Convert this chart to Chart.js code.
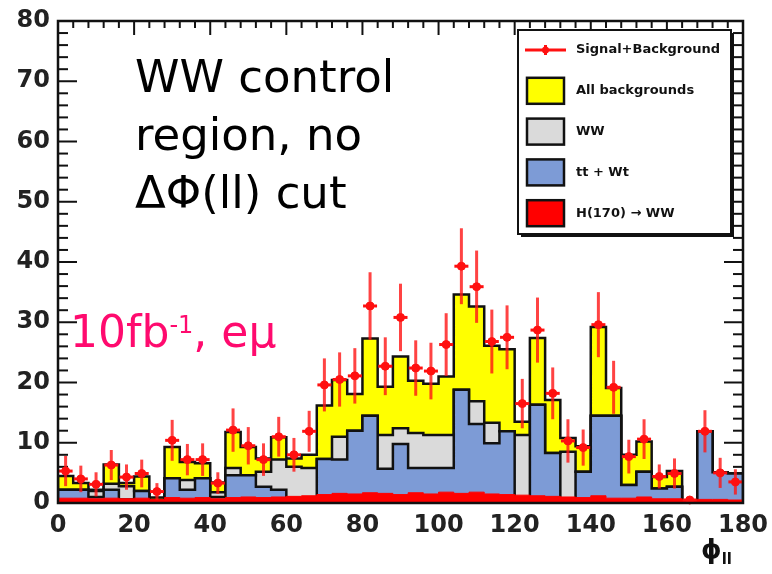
<!DOCTYPE html>
<html>
<head>
<meta charset="utf-8">
<script src="https://cdn.jsdelivr.net/npm/chart.js@4/dist/chart.umd.min.js"></script>
<style>
  html, body { margin: 0; padding: 0; background: #fff; }
  #wrap { position: relative; width: 772px; height: 574px; overflow: hidden; }
  #c { position: absolute; left: 0; top: 0; }
  .note { position: absolute; font-family: 'DejaVu Sans', sans-serif; white-space: nowrap; }
</style>
</head>
<body>
<div id="wrap">
  <canvas id="c" width="772" height="574"></canvas>
  <div class="note" style="left:135px; top:48px; font-size:45px; line-height:58px; color:#000;">WW control<br>region, no<br>ΔΦ(ll) cut</div>
  <div class="note" style="left:70px; top:306px; font-size:44px; color:#ff0a6e;">10fb<span style="font-size:24px; position:relative; top:-14px;">-1</span>, eμ</div>
  <div class="note" style="left:701px; top:534px; font-size:26px; font-weight:bold; color:#111;">ϕ<span style="font-size:15px; position:relative; top:6px;">ll</span></div>
</div>
<script>
// Lower edges of the 4-degree bins in phi_ll
const binLow = [0, 4, 8, 12, 16, 20, 24, 28, 32, 36, 40, 44, 48, 52, 56, 60, 64, 68, 72, 76,
                80, 84, 88, 92, 96, 100, 104, 108, 112, 116, 120, 124, 128, 132, 136, 140,
                144, 148, 152, 156, 160, 164, 168, 172, 176];
const binWidth = 4;
const xMax = 180;

// Signal + background pseudo-data and their uncertainties
const dataCounts = [5.3, 4.0, 3.1, 6.3, 4.3, 4.9, 1.9, 10.4, 7.2, 7.2, 3.3, 12.1, 9.5, 7.2, 11.0,
                    8.0, 11.9, 19.6, 20.5, 21.1, 32.7, 22.7, 30.8, 22.4, 21.9, 26.3, 39.3, 35.9,
                    26.8, 27.5, 16.5, 28.7, 18.2, 10.3, 9.2, 29.6, 19.2, 7.7, 10.6, 4.4, 4.9, 0.5,
                    11.9, 5.0, 3.5];
const dataErrors = [2.5, 2.2, 2.0, 2.5, 2.1, 2.3, 1.4, 3.4, 2.6, 2.7, 1.8, 3.6, 3.1, 2.7, 3.3,
                    2.8, 3.4, 4.4, 4.5, 4.6, 5.6, 4.8, 5.6, 4.6, 4.7, 5.2, 6.3, 6.0, 5.3, 5.3,
                    4.1, 5.4, 4.3, 3.6, 3.0, 5.4, 4.4, 2.8, 3.3, 2.0, 2.5, 0, 3.5, 2.5, 2.1];

// Stacked background levels (each level includes the ones below it)
const allBackgrounds = [4.5, 3.3, 2.2, 6.4, 3.3, 4.4, 0.9, 9.3, 6.8, 6.6, 3.4, 11.8, 9.3, 7.4, 10.9,
                        7.4, 8.0, 16.2, 20.4, 18.1, 27.3, 19.3, 24.3, 20.3, 19.8, 21.0, 34.6, 32.6,
                        26.1, 25.5, 13.5, 27.4, 17.1, 10.8, 9.4, 29.2, 19.1, 8.0, 10.2, 4.3, 5.3, 0,
                        11.9, 5.1, 4.9];
const wwPlusTop = [2.2, 2.2, 2.0, 3.2, 2.8, 2.0, 0.5, 4.1, 3.8, 4.1, 1.8, 5.8, 4.6, 5.2, 7.2,
                   6.0, 5.8, 7.3, 11.0, 12.0, 14.5, 11.3, 12.4, 11.6, 11.3, 11.3, 18.8, 16.9,
                   13.3, 11.9, 11.3, 16.3, 8.3, 8.5, 5.2, 14.5, 14.5, 3.0, 5.2, 2.4, 2.7, 0,
                   11.9, 5.1, 4.9];
const topBkg = [2.2, 2.2, 1.0, 2.2, 0.6, 2.0, 0.3, 4.1, 2.2, 4.1, 1.0, 4.6, 4.6, 2.7, 2.2,
                0.6, 0.6, 7.3, 7.2, 12.0, 14.5, 5.7, 9.8, 5.8, 5.8, 5.8, 18.8, 13.1, 9.9, 11.9,
                0.3, 16.3, 8.3, 0.5, 5.2, 14.5, 14.5, 3.0, 5.2, 2.4, 2.7, 0, 11.9, 5.1, 4.9];
// Higgs signal (mH = 170 GeV)
const signal = [0.8, 0.8, 0.7, 0.8, 0.7, 0.8, 0.6, 0.9, 0.8, 0.9, 0.7, 0.9, 1.0, 0.9, 1.0,
                1.1, 1.2, 1.4, 1.6, 1.5, 1.7, 1.6, 1.4, 1.7, 1.5, 1.8, 1.6, 1.8, 1.5, 1.4,
                1.3, 1.2, 1.1, 1.0, 0.9, 1.2, 0.8, 0.8, 1.0, 0.7, 0.7, 0.5, 0.6, 0.6, 0.5];

const yTicks = { min: 0, max: 80, major: 10, minor: 2 };
const xTicks = { min: 0, max: 180, major: 20, minor: 4 };

// Turn bin contents into a closed step outline (drawn with stepped lines)
function histPoints(values) {
  const pts = [{ x: binLow[0], y: 0 }];
  values.forEach((v, i) => pts.push({ x: binLow[i], y: v }));
  pts.push({ x: xMax, y: values[values.length - 1] });
  pts.push({ x: xMax, y: 0 });
  return pts;
}

// Inward-pointing ticks on all four sides plus the frame
const frameTicks = {
  id: 'frameTicks',
  beforeDatasetsDraw(chart) {
    const { ctx, chartArea: a, scales: { x, y } } = chart;
    ctx.save();
    ctx.strokeStyle = '#111';
    ctx.lineWidth = 2;
    const seg = (x1, y1, x2, y2) => { ctx.beginPath(); ctx.moveTo(x1, y1); ctx.lineTo(x2, y2); ctx.stroke(); };
    for (let v = yTicks.min; v <= yTicks.max + 1e-9; v += yTicks.minor) {
      const py = y.getPixelForValue(v);
      const major = Math.abs(v / yTicks.major - Math.round(v / yTicks.major)) < 1e-6;
      const len = major ? 19 : 10;
      seg(a.left, py, a.left + len, py);
      seg(a.right, py, a.right - len, py);
    }
    for (let v = xTicks.min; v <= xTicks.max + 1e-9; v += xTicks.minor) {
      const px = x.getPixelForValue(v);
      const major = Math.abs(v / xTicks.major - Math.round(v / xTicks.major)) < 1e-6;
      const len = major ? 14 : 7;
      seg(px, a.top, px, a.top + len);
      seg(px, a.bottom, px, a.bottom - len);
    }
    ctx.restore();
  },
  afterDatasetsDraw(chart) {
    const { ctx, chartArea: a } = chart;
    ctx.save();
    ctx.strokeStyle = '#111';
    ctx.lineWidth = 2.5;
    ctx.strokeRect(a.left, a.top, a.right - a.left, a.bottom - a.top);
    ctx.restore();
  }
};

// Vertical error bars and horizontal bin markers for the pseudo-data
const errorBars = {
  id: 'errorBars',
  beforeDatasetDraw(chart, args) {
    const ds = chart.data.datasets[args.index];
    if (!ds.errors) return;
    const { ctx, scales: { x, y } } = chart;
    ctx.save();
    ctx.strokeStyle = 'rgba(255, 20, 20, 0.8)';
    ctx.lineWidth = 3;
    ds.data.forEach((p, i) => {
      const e = ds.errors[i];
      const px = x.getPixelForValue(p.x);
      ctx.beginPath();
      ctx.moveTo(px, y.getPixelForValue(p.y + e));
      ctx.lineTo(px, y.getPixelForValue(Math.max(0, p.y - e)));
      ctx.stroke();
    });
    ctx.strokeStyle = '#ff1010';
    ds.data.forEach((p) => {
      const px = x.getPixelForValue(p.x);
      const py = y.getPixelForValue(p.y);
      ctx.beginPath();
      ctx.moveTo(px - 7, py);
      ctx.lineTo(px + 7, py);
      ctx.stroke();
    });
    ctx.restore();
  }
};

// Boxed legend in the upper right corner
const legendBox = {
  id: 'legendBox',
  afterDraw(chart, args, o) {
    const { ctx } = chart;
    ctx.save();
    ctx.fillStyle = '#111';
    ctx.fillRect(o.x + 3, o.y + 3, o.w, o.h);
    ctx.fillStyle = '#fff';
    ctx.fillRect(o.x, o.y, o.w, o.h);
    ctx.strokeStyle = '#111';
    ctx.lineWidth = 2;
    ctx.strokeRect(o.x, o.y, o.w, o.h);
    ctx.font = "bold 13px 'DejaVu Sans'";
    ctx.textBaseline = 'middle';
    ctx.textAlign = 'left';
    chart.data.datasets.forEach((ds, i) => {
      const cy = o.y + o.firstRow + i * o.rowStep;
      const sx = o.x + o.swatchX;
      if (ds.errors) {
        ctx.strokeStyle = '#ff1010';
        ctx.lineWidth = 3;
        ctx.beginPath(); ctx.moveTo(sx - 2, cy); ctx.lineTo(sx + o.swatchW + 2, cy); ctx.stroke();
        ctx.beginPath(); ctx.moveTo(sx + o.swatchW / 2, cy - 5); ctx.lineTo(sx + o.swatchW / 2, cy + 5); ctx.stroke();
        ctx.fillStyle = '#ff1010';
        ctx.beginPath(); ctx.arc(sx + o.swatchW / 2, cy, 3.5, 0, Math.PI * 2); ctx.fill();
      } else {
        ctx.fillStyle = ds.backgroundColor;
        ctx.fillRect(sx, cy - o.swatchH / 2, o.swatchW, o.swatchH);
        ctx.strokeStyle = '#111';
        ctx.lineWidth = 2.5;
        ctx.strokeRect(sx, cy - o.swatchH / 2, o.swatchW, o.swatchH);
      }
      ctx.fillStyle = '#111';
      ctx.fillText(ds.label, o.x + o.textX, cy);
    });
    ctx.restore();
  }
};

Chart.defaults.font.family = "'DejaVu Sans', sans-serif";

const tickFont = { family: "'DejaVu Sans', sans-serif", size: 24, weight: 'bold' };

new Chart(document.getElementById('c'), {
  type: 'line',
  data: {
    datasets: [
      {
        label: 'Signal+Background',
        type: 'scatter',
        data: dataCounts.map((v, i) => ({ x: binLow[i] + binWidth / 2, y: v })),
        errors: dataErrors,
        pointRadius: 4,
        pointBackgroundColor: '#ff1010',
        pointBorderColor: '#ff1010',
        order: 0,
        clip: false
      },
      {
        label: 'All backgrounds',
        data: histPoints(allBackgrounds),
        backgroundColor: '#ffff00',
        borderColor: '#111',
        fill: 'origin',
        pointRadius: 0,
        order: 4
      },
      {
        label: 'WW',
        data: histPoints(wwPlusTop),
        backgroundColor: '#dadada',
        borderColor: '#111',
        fill: 'origin',
        pointRadius: 0,
        order: 3
      },
      {
        label: 'tt + Wt',
        data: histPoints(topBkg),
        backgroundColor: '#7d9bd6',
        borderColor: '#111',
        fill: 'origin',
        pointRadius: 0,
        order: 2
      },
      {
        label: 'H(170) → WW',
        data: histPoints(signal),
        backgroundColor: '#ff0000',
        borderColor: '#ff0000',
        borderWidth: 1,
        fill: 'origin',
        pointRadius: 0,
        order: 1
      }
    ]
  },
  options: {
    responsive: false,
    animation: false,
    devicePixelRatio: 1,
    layout: { padding: { top: 21, right: 29, left: 0, bottom: 0 } },
    elements: { line: { stepped: true, borderWidth: 2.5, tension: 0 } },
    plugins: {
      legend: { display: false },
      tooltip: { enabled: false },
      legendBox: { x: 518, y: 30, w: 213, h: 204, firstRow: 20, rowStep: 40.8,
                   swatchX: 9, swatchW: 37, swatchH: 26, textX: 58 }
    },
    scales: {
      x: {
        type: 'linear',
        min: xTicks.min,
        max: xTicks.max,
        ticks: { stepSize: xTicks.major, padding: 8, color: '#222', font: tickFont, maxRotation: 0 },
        grid: { display: false, drawTicks: false },
        border: { display: false },
        afterFit(s) { s.height = 71; s.paddingLeft = 0; s.paddingRight = 0; }
      },
      y: {
        min: yTicks.min,
        max: yTicks.max,
        ticks: { stepSize: yTicks.major, padding: 8, color: '#222', font: tickFont },
        grid: { display: false, drawTicks: false },
        border: { display: false },
        afterFit(s) { s.width = 58; s.paddingTop = 0; s.paddingBottom = 0; }
      }
    }
  },
  plugins: [frameTicks, errorBars, legendBox]
});
</script>
</body>
</html>
